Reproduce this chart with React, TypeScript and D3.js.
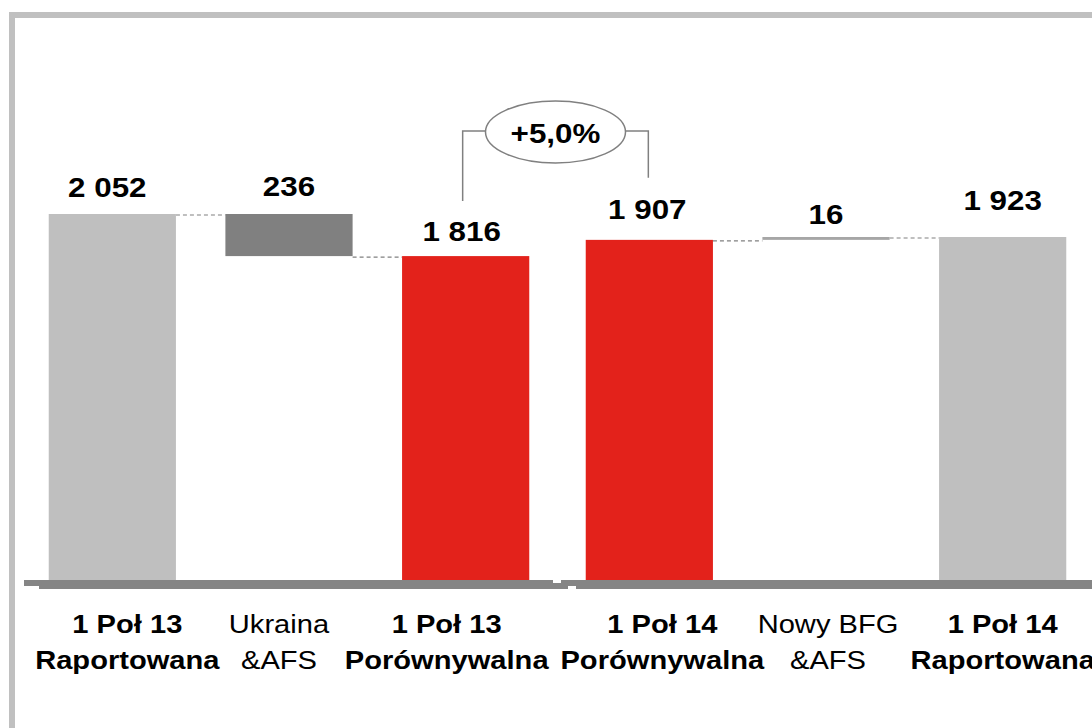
import React from "react";
import * as d3 from "d3";

const categoryLine1 = ["1 Poł 13", "Ukraina", "1 Poł 13", "1 Poł 14", "Nowy BFG", "1 Poł 14"];
const categoryLine2 = ["Raportowana", "&AFS", "Porównywalna", "Porównywalna", "&AFS", "Raportowana"];
const categoryBold = [true, false, true, true, false, true];
const barStart = [0, 1816, 0, 0, 1907, 0];
const barEnd = [2052, 2052, 1816, 1907, 1923, 1923];
const barKind = ["total", "decrease", "subtotal", "subtotal", "increase", "total"];
const valueLabels = ["2 052", "236", "1 816", "1 907", "16", "1 923"];
const growthLabel = "+5,0%";

// styling offsets (not data)
const labelLift = [17, 18, 15, 21, 13, 27];
const labelShift = [-5, 0, -4, -2, 0, 0];
const catShift = [15, -10, -19, 13, 2, 0];

const colors: Record<string, string> = {
  total: "#bfbfbf",
  decrease: "#808080",
  subtotal: "#e3221b",
  increase: "#a6a6a6",
};

const FONT = "'Liberation Sans', Arial, Helvetica, sans-serif";
const SX = 1.12;

export default function App() {
  const W = 1092, H = 728;
  const baseY = 580;
  const y = d3.scaleLinear().domain([0, 2052]).range([baseY, 214]);
  const left = d3.scaleBand<number>().domain([0, 1, 2]).range([24, 554]).paddingInner(0.28).paddingOuter(0.14);
  const right = d3.scaleBand<number>().domain([3, 4, 5]).range([561, 1091]).paddingInner(0.28).paddingOuter(0.14);
  const xOf = (i: number) => (i < 3 ? left(i)! : right(i)!);
  const bw = left.bandwidth();
  const cx = (i: number) => xOf(i) + bw / 2;

  const idx = d3.range(categoryLine1.length);
  const connectors = [
    [0, 1, barEnd[0]],
    [1, 2, barStart[1]],
    [3, 4, barStart[4]],
    [4, 5, barEnd[4]],
  ];

  const labelBase = (i: number) => y(barEnd[i]) - labelLift[i];
  const bx1 = cx(2) - 3;
  const bx2 = cx(3) - 1;
  const ecx = (bx1 + bx2) / 2;
  const ecy = 132;
  const erx = 70, ery = 31;

  const textT = (x: number, yy: number) => `translate(${x},${yy}) scale(${SX},1)`;

  return (
    <svg width={W} height={H} style={{ position: "absolute", left: 0, top: 0, background: "#fff" }} fontFamily={FONT}>
      <rect x={12} y={15} width={1200} height={800} fill="none" stroke="#c0c0c0" strokeWidth={6} />
      {/* baselines */}
      <rect x={39} y={583} width={529} height={6} fill="#858585" />
      <rect x={24} y={580} width={529} height={6} fill="#858585" />
      <rect x={576} y={583} width={530} height={6} fill="#858585" />
      <rect x={561} y={580} width={540} height={6} fill="#858585" />
      {/* connectors */}
      {connectors.map(([a, b, v], k) => (
        <line key={k} x1={xOf(a as number) + bw} x2={xOf(b as number)} y1={y(v as number) + 1} y2={y(v as number) + 1}
          stroke="#808080" strokeWidth={1.2} strokeDasharray="4 3" />
      ))}
      {/* bars */}
      {idx.map((i) => (
        <rect key={i} x={xOf(i)} width={bw} y={y(Math.max(barStart[i], barEnd[i]))}
          height={Math.abs(y(barStart[i]) - y(barEnd[i]))} fill={colors[barKind[i]]} />
      ))}
      {/* value labels */}
      {idx.map((i) => (
        <text key={i} transform={textT(cx(i) + labelShift[i], labelBase(i))} textAnchor="middle"
          fontSize={28} fontWeight="bold" fill="#000">{valueLabels[i]}</text>
      ))}
      {/* growth bracket */}
      <path d={`M${bx1},${labelBase(2) - 40} V${ecy - 1} H${ecx - erx}`} fill="none" stroke="#808080" strokeWidth={1.5} />
      <path d={`M${bx2},${labelBase(3) - 41} V${ecy - 1} H${ecx + erx}`} fill="none" stroke="#808080" strokeWidth={1.5} />
      <ellipse cx={ecx} cy={ecy} rx={erx} ry={ery} fill="#fff" stroke="#808080" strokeWidth={1.5} />
      <text transform={textT(ecx, 143)} textAnchor="middle" fontSize={28} fontWeight="bold">{growthLabel}</text>
      {/* category labels */}
      {idx.map((i) => (
        <g key={i} fontWeight={categoryBold[i] ? "bold" : "normal"} fontSize={26}>
          <text transform={textT(cx(i) + catShift[i], 633)} textAnchor="middle">{categoryLine1[i]}</text>
          <text transform={textT(cx(i) + catShift[i], 669)} textAnchor="middle">{categoryLine2[i]}</text>
        </g>
      ))}
    </svg>
  );
}
